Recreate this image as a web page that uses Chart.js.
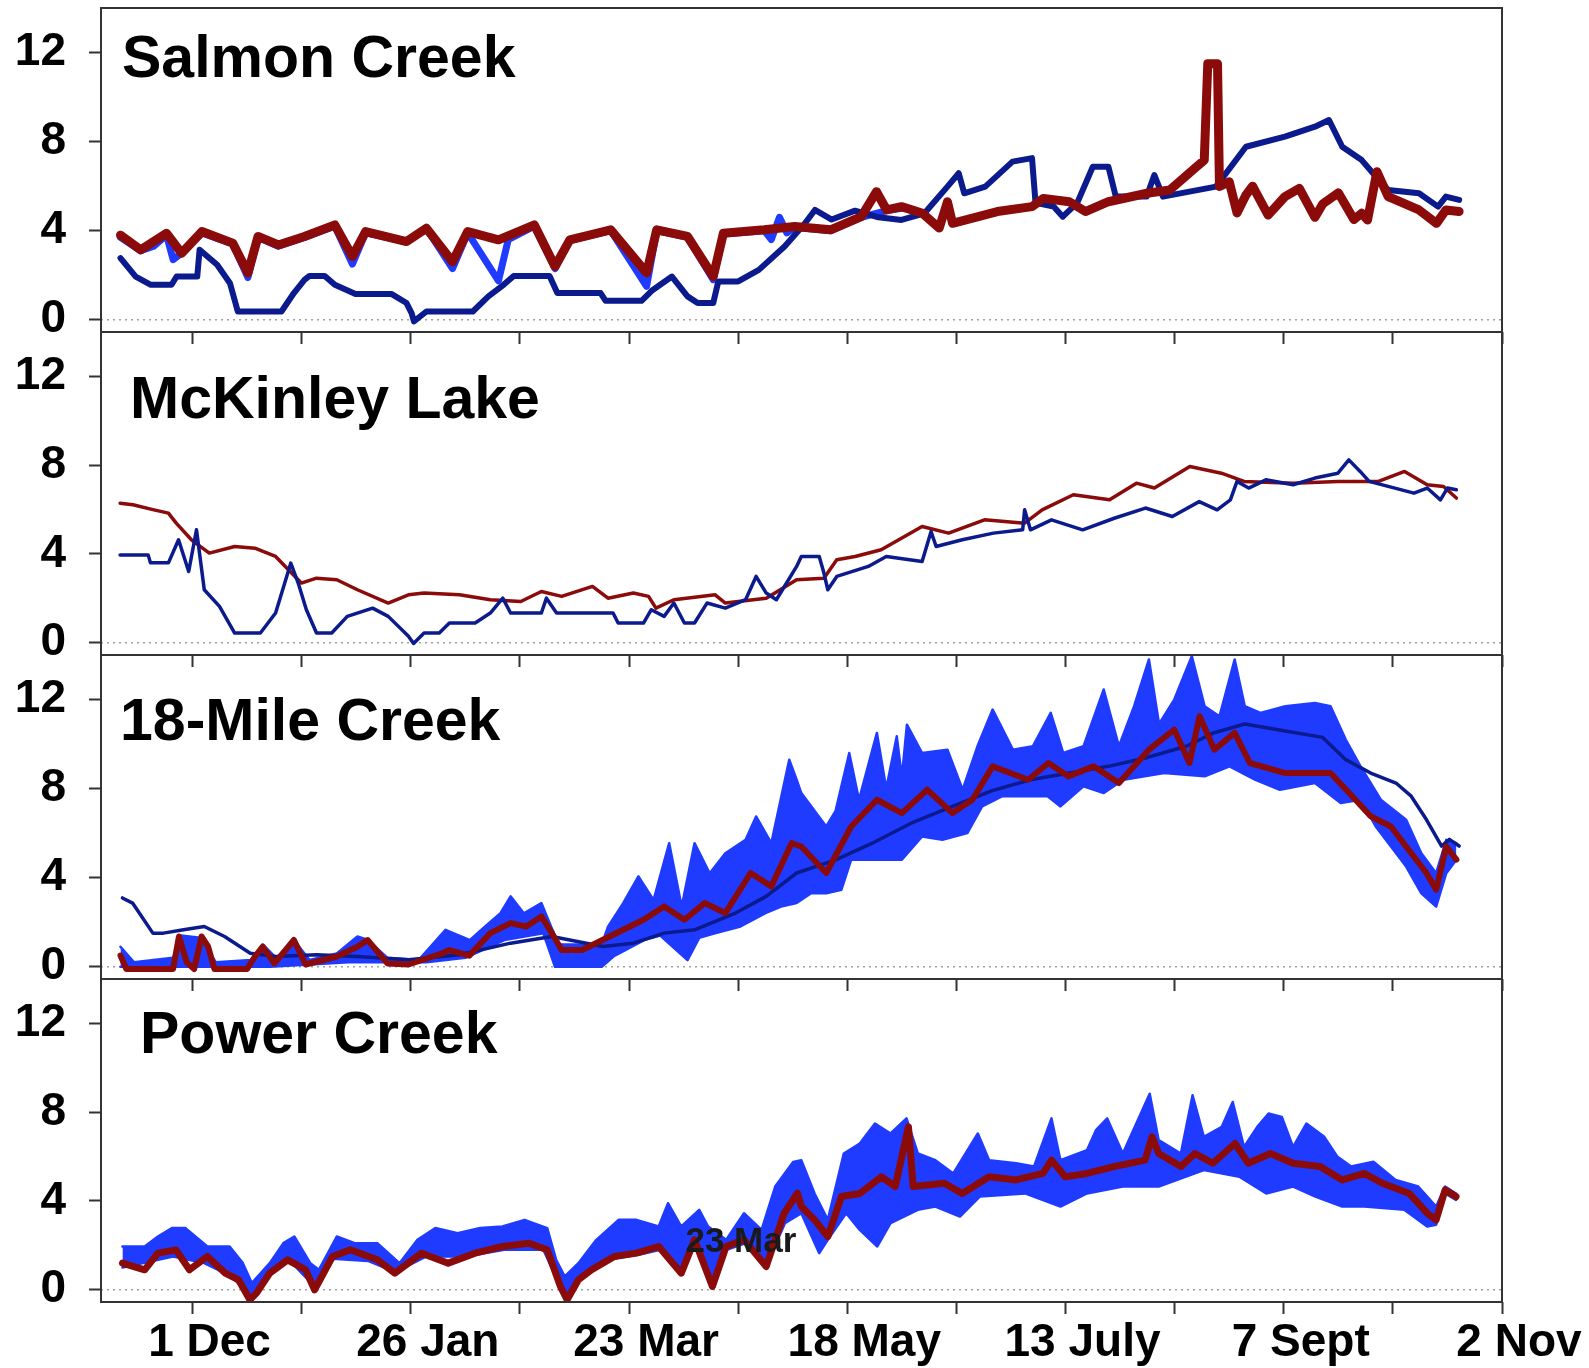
<!DOCTYPE html>
<html>
<head>
<meta charset="utf-8">
<script src="https://cdn.jsdelivr.net/npm/chart.js@4.4.1/dist/chart.umd.min.js"></script>
<style>
    html, body { margin: 0; padding: 0; background: #fff; }
    #wrap { position: relative; width: 1589px; height: 1368px; overflow: hidden; }
    #wrap canvas { position: absolute; left: 0; }
</style>
</head>
<body>
<div id="wrap"></div>
<script>
// panel names and axis ticks
const panelNames = ['Salmon Creek', 'McKinley Lake', '18-Mile Creek', 'Power Creek'];
const xTickDays = [0, 28, 56, 84, 112, 140, 168, 196, 224, 252, 280, 308, 336]; // days after 1 Dec
const xLabelDays = [0, 56, 112, 168, 224, 280, 336];
const xTickLabels = ['1 Dec', '26 Jan', '23 Mar', '18 May', '13 July', '7 Sept', '2 Nov'];
const yTickValues = [0, 4, 8, 12];

// series: [day after 1 Dec, value]
const salmonNavy = [[-18.5, 2.77], [-14.6, 1.94], [-10.7, 1.57], [-5.4, 1.57], [-4.1, 1.94], [1.2, 1.94], [1.8, 3.14], [6.3, 2.47], [9.6, 1.64], [11.0, 0.75], [11.6, 0.37], [22.8, 0.37], [26, 1.2], [28.7, 1.79], [30, 1.97], [33.9, 1.97], [36.5, 1.57], [41.8, 1.16], [51, 1.16], [54.9, 0.75], [56.2, 0.30], [56.8, -0.07], [60, 0.37], [71.9, 0.37], [75.9, 1.05], [79.8, 1.57], [82.4, 1.97], [91.6, 1.97], [93.6, 1.2], [104.7, 1.2], [106, 0.85], [115.2, 0.85], [117.8, 1.3], [123, 1.94], [127, 1.05], [129.6, 0.75], [133.6, 0.75], [134.9, 1.72], [140, 1.72], [145.3, 2.24], [151.9, 3.29], [157, 4.3], [159.7, 4.93], [164, 4.5], [170, 4.9], [176, 4.6], [181.9, 4.48], [187.8, 4.78], [193.7, 5.98], [196.6, 6.58], [198, 5.68], [203.4, 5.98], [210.4, 7.1], [215.4, 7.26], [216.3, 5.25], [221, 5.08], [223.3, 4.63], [227, 5.25], [231, 6.87], [235, 6.87], [236.9, 5.53], [244.8, 5.53], [246.8, 6.5], [249, 5.53], [262.6, 5.98], [270.3, 7.77], [280.3, 8.22], [288, 8.67], [291.6, 8.97], [295, 7.77], [300, 7.17], [302.9, 6.58], [306.8, 5.83], [314.7, 5.68], [319.6, 5.08], [321.6, 5.53], [325, 5.38]];
const salmonBlue = [[-18.5, 3.7], [-13.3, 3.1], [-10, 3.3], [-6.7, 3.8], [-5, 2.7], [-2.8, 3.0], [2.4, 3.9], [10.3, 3.4], [14.2, 1.9], [16.8, 3.7], [22, 3.3], [28.7, 3.7], [36.5, 4.2], [41, 2.5], [44.4, 3.9], [54.9, 3.5], [60, 4.1], [66.7, 2.3], [70.6, 3.9], [78.5, 1.75], [81, 3.6], [87.7, 4.2], [93, 2.3], [96.8, 3.55], [107.3, 4.0], [116.5, 1.5], [119.1, 4.0], [127, 3.7], [133.6, 1.8], [136.2, 3.85], [146.7, 4.0], [148.5, 3.6], [150.6, 4.6], [152.5, 3.9], [154.5, 4.15], [163.7, 4.0], [171.6, 4.6], [178.1, 4.9], [181.9, 5.0]];
const salmonRed = [[-18.5, 3.8], [-13.3, 3.14], [-6.7, 3.88], [-2.8, 2.99], [2.4, 3.96], [10.3, 3.44], [14.2, 2.1], [16.8, 3.74], [22, 3.36], [28.7, 3.74], [36.5, 4.26], [41, 2.84], [44.4, 3.96], [54.9, 3.51], [60, 4.11], [66.7, 2.6], [70.6, 3.96], [78.5, 3.59], [87.7, 4.26], [93, 2.39], [96.8, 3.59], [107.3, 4.04], [116.5, 2.1], [119.1, 4.04], [127, 3.74], [133.6, 1.94], [136.2, 3.88], [146.7, 4.04], [154.5, 4.19], [163.7, 4.04], [171.6, 4.63], [175.5, 5.75], [178.1, 4.93], [181.9, 5.08], [187.3, 4.78], [191.6, 4.12], [193.7, 5.3], [195, 4.33], [206.5, 4.86], [215.4, 5.08], [218.3, 5.45], [225, 5.3], [229.1, 4.86], [235, 5.3], [244.9, 5.68], [250.8, 5.83], [256.7, 6.73], [259.6, 7.17], [260.5, 11.5], [263, 11.5], [263.5, 5.98], [266, 6.2], [268, 4.8], [270.3, 5.6], [272, 6.0], [276, 4.7], [280.3, 5.53], [284, 5.9], [288, 4.6], [290, 5.2], [294, 5.7], [298, 4.5], [300, 4.78], [301.5, 4.48], [303.9, 6.65], [306.8, 5.53], [314.7, 4.93], [319.2, 4.33], [321.6, 4.93], [325, 4.86]];

const mckinleyNavy = [[-18.6, 3.96], [-11.4, 3.96], [-10.8, 3.6], [-6.2, 3.6], [-3.6, 4.64], [-1, 3.21], [1, 5.09], [3, 2.39], [6.9, 1.64], [10.8, 0.44], [17.4, 0.44], [21.3, 1.34], [23.9, 2.84], [25.2, 3.59], [27.1, 2.69], [29.2, 1.49], [31.8, 0.44], [35.7, 0.44], [39.7, 1.19], [46.2, 1.56], [50.2, 1.19], [55.4, 0.29], [56.7, -0.03], [59.4, 0.44], [63.3, 0.44], [65.9, 0.89], [72.5, 0.89], [76.4, 1.34], [79.6, 2.01], [81.6, 1.34], [89.5, 1.34], [90.8, 2.01], [93.4, 1.34], [107.9, 1.34], [109.2, 0.89], [115.7, 0.89], [117.7, 1.49], [121, 1.19], [123.5, 1.79], [126.2, 0.89], [128.8, 0.89], [132, 1.79], [136.7, 1.56], [141.9, 1.94], [144.6, 2.99], [147.2, 2.24], [149.8, 1.94], [155, 3.44], [156.2, 3.89], [160.8, 3.89], [162, 3.14], [163, 2.39], [165.3, 2.99], [173.4, 3.44], [178, 3.89], [187.2, 3.66], [189.5, 5.01], [190.8, 4.34], [197.5, 4.64], [205.5, 4.94], [213, 5.09], [213.5, 5.99], [215, 5.09], [220.4, 5.54], [228.4, 5.09], [236.5, 5.61], [244.5, 6.07], [251.4, 5.69], [258.3, 6.36], [262.9, 5.99], [266.3, 6.44], [268, 7.27], [271, 6.97], [275.4, 7.34], [282.4, 7.12], [288, 7.42], [293.9, 7.64], [296.7, 8.24], [299.6, 7.72], [301.9, 7.27], [313.4, 6.74], [316.8, 6.97], [320.2, 6.44], [322, 6.97], [324.3, 6.89]];
const mckinleyRed = [[-18.6, 6.29], [-15.3, 6.22], [-10.2, 6.0], [-6.2, 5.84], [-4.2, 5.39], [-0.3, 4.64], [4.3, 4.04], [10.8, 4.34], [16, 4.26], [21.3, 3.89], [24.6, 3.29], [27.9, 2.69], [31.8, 2.91], [37, 2.84], [42.3, 2.39], [50.2, 1.79], [55.4, 2.16], [59.4, 2.24], [68.5, 2.16], [76.4, 1.94], [84.2, 1.86], [89.5, 2.31], [94.7, 2.09], [102.6, 2.54], [106.6, 2.01], [113.1, 2.24], [117, 2.09], [118.9, 1.56], [123.5, 1.94], [134.1, 2.16], [136.7, 1.79], [147.2, 2.01], [155, 2.84], [162, 2.91], [165.3, 3.74], [170, 3.89], [176.7, 4.19], [187.2, 5.24], [194, 4.94], [203.2, 5.54], [213.5, 5.39], [218, 5.99], [226, 6.67], [235.3, 6.44], [242.2, 7.19], [246.8, 6.97], [255.9, 7.94], [264, 7.64], [269.8, 7.27], [282.4, 7.19], [293.9, 7.27], [304.3, 7.27], [311, 7.72], [316.8, 7.12], [321, 7.04], [324.3, 6.52]];

const mileNavy = [[-18, 3.09], [-15.4, 2.86], [-10.2, 1.51], [-7.5, 1.51], [-2.3, 1.66], [3, 1.81], [8.2, 1.36], [14.8, 0.61], [21.3, 0.46], [31.8, 0.54], [42.3, 0.46], [55.4, 0.31], [68.5, 0.54], [81.6, 1.06], [92.2, 1.36], [105.3, 0.91], [113.1, 1.06], [121, 1.51], [128.8, 1.66], [139.3, 2.41], [147.2, 3.16], [155, 4.21], [165, 4.8], [175, 5.6], [185, 6.5], [195, 7.2], [205, 7.9], [215, 8.4], [225, 8.7], [235, 9.0], [245, 9.4], [255, 9.9], [262, 10.5], [270, 10.9], [280, 10.6], [290, 10.3], [295.9, 9.3], [302.3, 8.7], [308.8, 8.25], [312.7, 7.66], [316.6, 6.61], [320.5, 5.42], [322.5, 5.72], [325, 5.42]];
const mileRed = [[-18.5, 0.5], [-17, -0.1], [-5, -0.1], [-3.5, 1.36], [-1.5, 0.2], [0.4, -0.1], [2.3, 1.36], [4, 0.9], [5.6, -0.1], [14, -0.1], [16, 0.46], [18, 0.9], [21, 0.15], [26, 1.2], [29, 0.1], [37, 0.46], [42.3, 0.9], [44.9, 1.2], [50, 0.15], [55.4, 0.1], [64, 0.6], [65.9, 0.75], [71, 0.5], [76.4, 1.51], [81.6, 1.96], [85.6, 1.81], [89.5, 2.26], [92.2, 1.51], [94.7, 0.75], [100, 0.75], [105.3, 1.21], [110.5, 1.66], [115.7, 2.11], [121, 2.71], [126.2, 2.11], [131.4, 2.86], [136.7, 2.41], [143.2, 4.21], [148.5, 3.61], [153.7, 5.55], [156.2, 5.4], [162.6, 4.21], [169, 6.3], [175.6, 7.5], [182, 6.9], [188.5, 7.95], [195, 6.9], [200.1, 7.5], [205.3, 9.0], [214.4, 8.4], [219.6, 9.15], [224.7, 8.55], [231.2, 9.0], [237.7, 8.25], [245.4, 9.75], [251.9, 10.65], [255.8, 9.15], [258.4, 11.25], [262.2, 9.75], [267.4, 10.5], [271.3, 9.15], [280.4, 8.7], [292, 8.7], [298.4, 7.5], [302.3, 6.76], [307.5, 6.3], [311.4, 5.4], [316.6, 4.21], [319.1, 3.46], [321.7, 5.4], [324.3, 4.81]];
const mileBlueHigh = [[-18.5, 0.9], [-15, 0.2], [-5, 0.4], [-3, 1.4], [2, 1.3], [6, 0.2], [15, 0.3], [18, 1.0], [22, 0.3], [26, 1.2], [30, 0.3], [37, 0.6], [42.3, 1.36], [45, 1.2], [50, 0.4], [58, 0.3], [64.9, 1.66], [71.2, 1.2], [75, 1.8], [79, 2.41], [81.6, 3.16], [85, 2.4], [89.5, 2.86], [92, 1.8], [94, 1.0], [105, 1.0], [106.6, 1.8], [110.5, 2.86], [114.4, 4.06], [118.3, 3.0], [122.3, 5.55], [125.5, 2.7], [128.8, 5.55], [132.7, 4.2], [136.7, 5.1], [141.9, 5.7], [144.6, 6.75], [148.5, 5.55], [153.1, 9.3], [155, 8.4], [156.2, 7.8], [162.6, 6.3], [165, 7.0], [168.5, 9.6], [171, 7.5], [175.6, 10.5], [178, 8.0], [180.7, 10.35], [182, 8.5], [183.3, 10.87], [187.2, 9.6], [193.7, 9.75], [197.6, 7.95], [201.4, 9.9], [205.3, 11.55], [210.5, 9.75], [215.6, 9.9], [220.2, 11.4], [223.4, 9.6], [228.6, 9.9], [233.8, 12.45], [237.7, 9.9], [241.6, 11.7], [245.4, 13.8], [248, 10.9], [251.9, 12.0], [256.4, 13.95], [259.7, 11.7], [263.5, 11.25], [267.4, 13.8], [270, 11.7], [274, 11.4], [280.4, 11.7], [288, 11.85], [292, 11.7], [295.9, 10.2], [299.7, 9.0], [304.9, 7.5], [311.4, 6.6], [315.3, 5.1], [319.1, 4.2], [321.7, 5.7], [324.3, 5.55]];
const mileBlueLow = [[-18.5, 0.0], [0, 0.0], [20, 0.0], [40, 0.2], [60, 0.2], [70, 0.4], [80, 1.2], [90, 1.5], [93, 0.0], [105, 0.0], [108, 0.46], [116, 1.21], [120, 1.4], [127, 0.3], [130, 1.3], [134, 1.5], [140.6, 1.81], [147, 2.41], [151, 2.7], [155, 2.86], [158.7, 3.3], [162.6, 3.3], [166.5, 3.46], [169, 4.81], [182, 4.81], [187.2, 5.85], [192.4, 5.7], [198.8, 6.0], [202.6, 7.2], [207.8, 7.66], [219.4, 7.66], [222.7, 7.2], [228.6, 8.1], [233.8, 7.8], [238.9, 8.4], [249.3, 8.7], [259.7, 8.55], [266.1, 9.0], [272.6, 8.4], [279, 7.95], [288, 8.25], [294.6, 7.35], [299.7, 7.5], [303.6, 6.3], [311.4, 4.5], [315.3, 3.3], [319.1, 2.7], [321.7, 4.2], [324.3, 4.8]];

const powerRed = [[-18, 1.2], [-12.3, 0.9], [-8.9, 1.65], [-4.3, 1.8], [-0.8, 0.9], [3.8, 1.5], [8.4, 0.75], [11.8, 0.45], [14.7, -0.45], [16.4, -0.15], [19.8, 0.75], [24.4, 1.35], [29, 0.9], [31.3, 0.0], [35.9, 1.5], [40.5, 1.8], [47.4, 1.35], [51.9, 0.75], [58.8, 1.65], [65.6, 1.2], [72.5, 1.65], [79.5, 1.95], [86.3, 2.1], [91, 1.8], [94.4, 0.15], [96.1, -0.45], [99, 0.45], [102.4, 0.9], [108.2, 1.5], [113.9, 1.65], [119.6, 1.95], [125.4, 0.75], [128.8, 2.25], [133.4, 0.15], [136.9, 1.95], [141.5, 2.25], [147.2, 1.05], [151.8, 3.45], [155.2, 4.35], [156.2, 3.75], [159.6, 3.15], [163, 2.4], [166.5, 4.2], [171.2, 4.34], [176.8, 5.09], [180.3, 4.65], [183.7, 7.34], [184.9, 4.65], [192.9, 4.8], [197.5, 4.34], [204.4, 5.09], [211.3, 4.95], [218.2, 5.24], [220.4, 5.84], [223.9, 5.09], [229.5, 5.24], [236.4, 5.55], [244.4, 5.84], [246.2, 6.89], [247.9, 6.14], [253.6, 5.55], [257.2, 6.14], [261.8, 5.7], [267.5, 6.59], [270.9, 5.7], [276.6, 6.14], [282.4, 5.7], [289.3, 5.55], [295, 4.95], [300.7, 5.24], [305.3, 4.8], [312.2, 4.34], [316.8, 3.45], [319.1, 3.15], [321.4, 4.5], [324.2, 4.2]];
const powerBlueHigh = [[-18, 1.95], [-12.3, 1.95], [-8.9, 2.4], [-5.3, 2.78], [-1.9, 2.78], [3.8, 1.95], [9.5, 1.95], [12.9, 1.2], [15.2, 0.3], [19.8, 1.2], [23.3, 2.1], [26.1, 2.4], [30.2, 1.2], [32.4, 0.9], [37, 2.4], [41.6, 2.1], [47.4, 2.1], [53.1, 1.2], [57.7, 2.25], [62.3, 2.78], [68, 2.55], [73.8, 2.78], [79.5, 2.85], [85.2, 3.15], [91, 2.78], [93.3, 1.35], [95.5, 0.6], [99, 1.2], [103.6, 2.25], [109.3, 3.15], [113.9, 3.15], [119.6, 2.85], [122, 3.9], [125.4, 2.85], [130, 3.6], [132.3, 2.85], [136.9, 2.25], [141.5, 3.45], [146, 2.7], [149.5, 4.65], [154.1, 5.76], [156.2, 5.84], [159.6, 4.34], [163, 3.15], [167.1, 6.14], [171.2, 6.59], [175.1, 7.49], [179.1, 7.04], [183.2, 7.72], [186.1, 6.14], [190.6, 5.84], [195.2, 5.24], [201.5, 7.04], [204.4, 5.84], [211.3, 5.7], [215.9, 5.55], [220.4, 7.72], [222.7, 5.84], [229.5, 6.29], [231.8, 7.19], [234.7, 7.72], [238.7, 6.14], [245.6, 8.83], [247.9, 6.74], [253.6, 6.14], [256.6, 8.76], [259.5, 6.89], [264.1, 7.34], [266.9, 8.46], [269.8, 6.44], [273.2, 7.34], [276.1, 7.94], [279.5, 7.79], [282.4, 6.44], [285.8, 7.49], [290.4, 6.89], [293.8, 5.99], [297.3, 5.55], [303, 5.77], [308.7, 4.95], [314.5, 4.65], [319.1, 3.75], [321.4, 4.65], [324.2, 4.34]];
const powerBlueLow = [[-18, 1.0], [-5, 1.5], [3, 1.2], [10, 0.6], [15, -0.3], [20, 0.8], [25, 1.3], [31, 0.2], [36, 1.4], [45, 1.3], [52, 0.8], [60, 1.5], [70, 1.5], [80, 1.8], [90, 1.8], [94, 0.3], [96, -0.3], [100, 0.6], [108, 1.4], [115, 1.6], [120, 1.8], [125, 0.8], [129, 2.0], [133, 0.1], [137, 1.8], [142, 2.1], [147, 1.0], [152, 3.0], [156.2, 3.45], [158.5, 2.55], [160.8, 1.65], [163, 2.25], [167.7, 3.45], [171.2, 2.7], [175.7, 1.95], [179.1, 3.0], [186.1, 3.6], [190.6, 3.75], [196.9, 3.3], [202, 4.2], [213.6, 4.34], [222.7, 3.75], [229.5, 4.34], [238.7, 4.65], [247.9, 4.65], [259.5, 5.39], [268.6, 5.09], [275.5, 4.34], [282.4, 4.65], [288.1, 4.2], [295, 3.75], [300.7, 3.75], [311, 3.6], [316.8, 2.85], [319.1, 2.93], [321.4, 4.34], [324.2, 4.05]];

const navy = '#0b1a8c';
const bright = '#1f3bff';
const maroon = '#8b0b0b';
const fontFamily = '"Liberation Sans", Arial, Helvetica, sans-serif';

const pts = arr => arr.map(([x, y]) => ({ x, y }));
const line = (data, color, width, extra) => Object.assign({
    data: pts(data),
    borderColor: color,
    backgroundColor: color,
    borderWidth: width,
    pointRadius: 0,
    tension: 0,
    fill: false,
    borderJoinStyle: 'round',
    borderCapStyle: 'round'
}, extra || {});

// first dataset is drawn on top
const panels = [
    { top: 8, height: 324, dx: 21, dy: 69, datasets: [
        line(salmonRed, maroon, 9),
        line(salmonNavy, navy, 6),
        line(salmonBlue, bright, 7)
    ] },
    { top: 332, height: 323, dx: 29, dy: 86, datasets: [
        line(mckinleyNavy, navy, 3.5),
        line(mckinleyRed, maroon, 3.5)
    ] },
    { top: 655, height: 324, dx: 19, dy: 85, datasets: [
        line(mileRed, maroon, 6),
        line(mileNavy, navy, 3.5),
        line(mileBlueHigh, bright, 2.5, { fill: '+1' }),
        line(mileBlueLow, bright, 2.5)
    ] },
    { top: 979, height: 323, dx: 39, dy: 74, note: { text: '23 Mar', x: 140.7, y: 1.7 }, datasets: [
        line(powerRed, maroon, 7),
        line(powerBlueHigh, bright, 2.5, { fill: '+1' }),
        line(powerBlueLow, bright, 2.5)
    ] }
];

const panelDecor = {
    id: 'panelDecor',
    beforeDatasetsDraw(chart, args, opts) {
        const { ctx, chartArea: a, scales: { y } } = chart;
        ctx.save();
        const y0 = y.getPixelForValue(0);
        ctx.strokeStyle = '#a0a0a0';
        ctx.lineWidth = 1.5;
        ctx.setLineDash([2, 4]);
        ctx.beginPath();
        ctx.moveTo(a.left, y0);
        ctx.lineTo(a.right, y0);
        ctx.stroke();
        ctx.setLineDash([]);

        ctx.fillStyle = '#000';
        ctx.textAlign = 'left';
        ctx.textBaseline = 'alphabetic';
        ctx.font = 'bold 59px ' + fontFamily;
        ctx.fillText(opts.title, a.left + opts.dx, a.top + opts.dy);
        ctx.restore();
    },
    afterDatasetsDraw(chart, args, opts) {
        const { ctx, chartArea: a, scales: { x, y } } = chart;
        ctx.save();
        if (opts.note) {
            ctx.font = 'bold 35px ' + fontFamily;
            ctx.textAlign = 'center';
            ctx.textBaseline = 'alphabetic';
            ctx.fillStyle = '#1a1a1a';
            ctx.fillText(opts.note.text, x.getPixelForValue(opts.note.x), y.getPixelForValue(opts.note.y));
        }
        ctx.strokeStyle = '#333';
        ctx.lineWidth = 2;
        ctx.strokeRect(a.left, a.top, a.right - a.left, a.bottom - a.top);
        ctx.restore();
    }
};

const wrap = document.getElementById('wrap');
const padTop = 6;

panels.forEach((p, i) => {
    const isLast = i === panels.length - 1;
    const axisH = isLast ? 72 : 14;
    const canvas = document.createElement('canvas');
    canvas.width = 1589;
    canvas.height = padTop + p.height + axisH;
    canvas.style.top = (p.top - padTop) + 'px';
    canvas.style.zIndex = 10 - i;
    wrap.appendChild(canvas);

    new Chart(canvas.getContext('2d'), {
        type: 'line',
        data: { datasets: p.datasets },
        plugins: [panelDecor],
        options: {
            responsive: false,
            animation: false,
            devicePixelRatio: 1,
            layout: { padding: { top: padTop, right: 87, bottom: 0, left: 0 } },
            plugins: {
                legend: { display: false },
                tooltip: { enabled: false },
                panelDecor: { title: panelNames[i], dx: p.dx, dy: p.dy, note: p.note }
            },
            scales: {
                x: {
                    type: 'linear',
                    min: -23.5,
                    max: 336,
                    afterBuildTicks: s => { s.ticks = xTickDays.map(v => ({ value: v })); },
                    afterFit: s => { s.height = axisH; s.paddingLeft = 0; s.paddingRight = 0; },
                    grid: { drawOnChartArea: false, drawTicks: true, tickLength: 12, tickColor: '#333', tickWidth: 2 },
                    border: { display: false },
                    ticks: {
                        display: isLast,
                        autoSkip: false,
                        maxRotation: 0,
                        padding: 2,
                        labelOffset: 17,
                        color: '#000',
                        font: { family: fontFamily, size: 46, weight: 'bold' },
                        callback: v => {
                            const k = xLabelDays.indexOf(v);
                            return k >= 0 ? xTickLabels[k] : '';
                        }
                    }
                },
                y: {
                    type: 'linear',
                    min: -0.55,
                    max: 14,
                    afterBuildTicks: s => { s.ticks = yTickValues.map(v => ({ value: v })); },
                    afterFit: s => { s.width = 101; s.paddingTop = 0; s.paddingBottom = 0; },
                    grid: { drawOnChartArea: false, drawTicks: true, tickLength: 12, tickColor: '#333', tickWidth: 2 },
                    border: { display: false },
                    ticks: {
                        padding: 23,
                        color: '#000',
                        font: { family: fontFamily, size: 46, weight: 'bold' }
                    }
                }
            }
        }
    });
});
</script>
</body>
</html>
